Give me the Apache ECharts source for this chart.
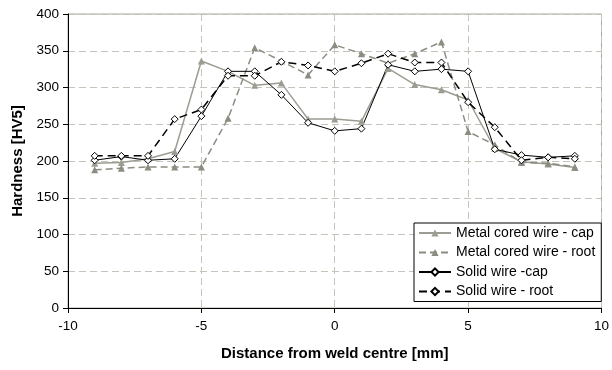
<!DOCTYPE html>
<html>
<head>
<meta charset="utf-8">
<script src="https://cdn.jsdelivr.net/npm/echarts@6/dist/echarts.min.js"></script>
<style>html,body{margin:0;padding:0;background:#fff;}#c{width:612px;height:370px;}</style>
</head>
<body>
<div id="c"></div>
<script>
var distances = [-9,-8,-7,-6,-5,-4,-3,-2,-1,0,1,2,3,4,5,6,7,8,9];
var metalCap  = [197,198,203,213,336,322,303,306,257,257,254,326,304,297,283,217,199,196,191];
var metalRoot = [188,190,192,192,192,258,354,336,317,358,346,333,346,362,240,222,198,197,192];
var solidCap  = [201,206,201,203,261,322,322,290,252,241,244,331,322,325,322,216,208,205,207];
var solidRoot = [207,207,207,257,270,316,316,335,330,322,333,346,334,334,280,246,201,205,203];
var xTicks = [-10,-5,0,5,10];
var yTicks = [0,50,100,150,200,250,300,350,400];

function pairs(ys){ return distances.map(function(x,i){ return [x, ys[i]]; }); }

var font = 'Liberation Sans, Arial, sans-serif';
var chart = echarts.init(document.getElementById('c'), null, {renderer:'canvas'});
chart.setOption({
  animation: false,
  backgroundColor: '#fff',
  grid: {left: 68, right: 9, top: 14, bottom: 62, show: true, borderColor: '#a8a89c', borderWidth: 1, backgroundColor: 'transparent'},
  xAxis: {
    type: 'value', min: xTicks[0], max: xTicks[xTicks.length-1], interval: 5,
    name: 'Distance from weld centre [mm]', nameLocation: 'middle', nameGap: 38,
    nameTextStyle: {fontFamily: font, fontSize: 15, fontWeight: 'bold', color: '#000'},
    axisLine: {show: true, onZero: false, lineStyle: {color: '#000', width: 1}},
    axisTick: {show: true, length: 5, lineStyle: {color: '#000'}},
    axisLabel: {fontFamily: font, fontSize: 13.5, color: '#000', margin: 11},
    splitLine: {show: true, lineStyle: {color: '#c4c4bc', type: [7,4], width: 1}}
  },
  yAxis: {
    type: 'value', min: yTicks[0], max: yTicks[yTicks.length-1], interval: 50,
    name: 'Hardness [HV5]', nameLocation: 'middle', nameGap: 40,
    nameTextStyle: {fontFamily: font, fontSize: 15, fontWeight: 'bold', color: '#000'},
    axisLine: {show: true, onZero: false, lineStyle: {color: '#000', width: 1}},
    axisTick: {show: true, length: 5, lineStyle: {color: '#000'}},
    axisLabel: {fontFamily: font, fontSize: 13.5, color: '#000', margin: 9},
    splitLine: {show: true, lineStyle: {color: '#c4c4bc', type: [7,4], width: 1}}
  },
  legend: {
    orient: 'vertical', left: 414, top: 223,
    backgroundColor: '#fff', borderColor: '#000', borderWidth: 1,
    padding: [3, 6, 3, 4], itemGap: 5.5, itemWidth: 32, itemHeight: 9,
    textStyle: {fontFamily: font, fontSize: 14, color: '#000', lineHeight: 14},
    data: ['Metal cored wire - cap','Metal cored wire - root','Solid wire -cap','Solid wire - root']
  },
  series: [
    {name: 'Metal cored wire - cap', type: 'line', data: pairs(metalCap),
     symbol: 'triangle', symbolSize: 7, itemStyle: {color: '#9c9c92', borderWidth: 0},
     lineStyle: {color: '#9c9c92', width: 1.5, type: 'solid'}},
    {name: 'Metal cored wire - root', type: 'line', data: pairs(metalRoot),
     symbol: 'triangle', symbolSize: 7, itemStyle: {color: '#8c8c82', borderWidth: 0},
     lineStyle: {color: '#8c8c82', width: 1.5, type: [7,4]}},
    {name: 'Solid wire -cap', type: 'line', data: pairs(solidCap),
     symbol: 'diamond', symbolSize: 7, itemStyle: {color: '#fff', borderColor: '#000', borderWidth: 1},
     lineStyle: {color: '#000', width: 1, type: 'solid'}},
    {name: 'Solid wire - root', type: 'line', data: pairs(solidRoot),
     symbol: 'diamond', symbolSize: 7, itemStyle: {color: '#fff', borderColor: '#000', borderWidth: 1},
     lineStyle: {color: '#000', width: 1.5, type: [8,5]}}
  ]
});
</script>
</body>
</html>
